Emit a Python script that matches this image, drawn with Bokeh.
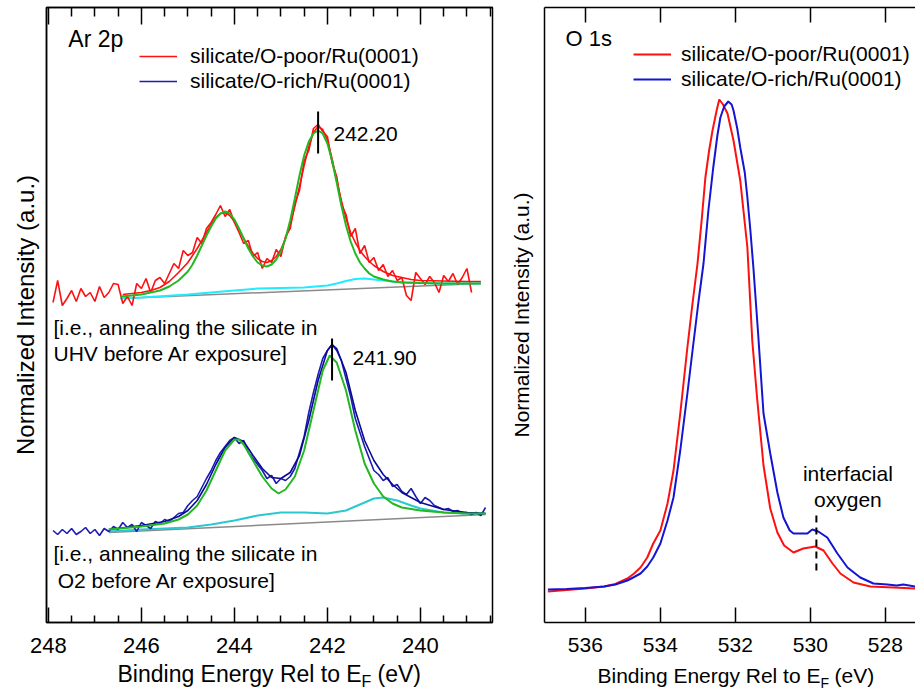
import numpy as np
from bokeh.plotting import figure
from bokeh.models import (Range1d, LinearAxis, FixedTicker, Legend, LegendItem, Label,
                          CustomLabelingPolicy)
from bokeh.layouts import row, column
from bokeh.embed import file_html
from bokeh.resources import INLINE

FONT = "Liberation Sans"

# ------------------------- Ar 2p panel data (a.u.) -------------------------
ar_poor_x = np.round(np.arange(247.9, 238.85, -0.1), 2)
ar_poor_y = [320, 342, 317, 324, 332, 321, 334, 326, 330, 321,
             336, 325, 330, 339, 338, 319, 326, 317, 339, 334,
             344, 330, 342, 345, 339, 349, 359, 354, 372, 367,
             370, 385, 379, 394, 400, 408, 417, 406, 413, 400,
             390, 379, 382, 366, 370, 354, 364, 360, 373, 366,
             386, 394, 419, 432, 462, 472, 494, 498, 491, 486,
             460, 446, 418, 408, 386, 394, 369, 377, 360, 365,
             352, 358, 346, 352, 342, 345, 327, 322, 350, 344,
             338, 346, 340, 330, 347, 341, 349, 338, 345, 354, 330]

ar_poor_env_x = [246.4, 246.2, 246.0, 245.8, 245.6, 245.4, 245.2, 245.0, 244.8, 244.6,
                 244.5, 244.4, 244.3, 244.2, 244.1, 244.0, 243.9, 243.8, 243.7, 243.6,
                 243.5, 243.4, 243.3, 243.2, 243.1, 243.0, 242.9, 242.8, 242.7, 242.6,
                 242.5, 242.4, 242.3, 242.2, 242.1, 242.0, 241.9, 241.8, 241.7, 241.6,
                 241.5, 241.4, 241.3, 241.2, 241.1, 241.0, 240.8, 240.6, 240.4, 240.2,
                 240.0, 239.5, 239.0, 238.7]
ar_poor_env_y = [328, 329, 330, 332, 335, 341, 350, 360, 374, 390,
                 398, 405, 409, 410, 407, 401, 393, 384, 376, 369,
                 364, 361, 360, 362, 366, 373, 384, 398, 416, 436,
                 457, 476, 490, 496, 493, 482, 464, 442, 422, 404,
                 390, 380, 372, 366, 361, 357, 351, 347, 345, 343,
                 342, 341.5, 341, 341]

ar_poor_fit_x = [246.45, 246.2, 246.0, 245.8, 245.6, 245.4, 245.2, 245.0, 244.9, 244.8,
                 244.7, 244.6, 244.5, 244.4, 244.3, 244.2, 244.1, 244.0, 243.9, 243.8,
                 243.7, 243.6, 243.5, 243.4, 243.3, 243.2, 243.1, 243.0, 242.9, 242.8,
                 242.7, 242.6, 242.5, 242.4, 242.3, 242.2, 242.1, 242.0, 241.9, 241.8,
                 241.7, 241.6, 241.5, 241.4, 241.3, 241.2, 241.1, 241.0, 240.8, 240.6,
                 240.4, 240.0, 239.5, 239.0, 238.7]
ar_poor_fit_y = [326, 327, 328, 330, 332, 336, 342, 351, 358, 367,
                 377, 387, 396, 404, 409, 411, 409, 403, 394, 384,
                 374, 366, 360, 357, 356, 358, 363, 371, 384, 402,
                 424, 447, 467, 481, 489, 492, 489, 479, 462, 440,
                 417, 397, 381, 369, 360, 354, 349, 346, 343, 341,
                 340, 339.5, 339, 339, 339]

ar_poor_comp_x = [246.45, 246.0, 245.5, 245.0, 244.5, 244.0, 243.5, 243.0, 242.5, 242.0,
                  241.8, 241.6, 241.4, 241.2, 241.0, 240.8, 240.5, 240.0, 239.5, 239.0, 238.7]
ar_poor_comp_y = [324, 325, 326.5, 328, 330, 332, 334, 334.5, 335, 337,
                  339, 341.5, 343.5, 344, 343, 342, 340.5, 339.5, 339, 339, 339]

ar_poor_bg_x = [246.45, 238.7]
ar_poor_bg_y = [324, 339]

ar_rich_x = np.round(np.arange(247.9, 238.55, -0.1), 2)
ar_rich_y = [92, 88, 93, 89, 94, 88, 91, 95, 89, 93,
             87, 94, 91, 96, 93, 100, 95, 98, 91, 100,
             97, 94, 101, 99, 103, 101, 105, 109, 110, 117,
             122, 126, 135, 144, 152, 162, 170, 176, 182, 185,
             179, 182, 170, 164, 158, 152, 144, 147, 139, 144,
             142, 146, 154, 170, 186, 210, 230, 248, 264, 272,
             278, 272, 262, 244, 226, 204, 190, 176, 164, 152,
             148, 142, 145, 136, 138, 131, 128, 134, 126, 119,
             125, 122, 117, 115, 113, 114, 111, 112, 109, 110,
             108, 110, 107, 115]

ar_rich_env_x = [246.7, 246.0, 245.5, 245.2, 245.0, 244.8, 244.6, 244.4, 244.2, 244.0,
                 243.8, 243.6, 243.4, 243.2, 243.0, 242.8, 242.6, 242.4, 242.2, 242.0,
                 241.9, 241.8, 241.6, 241.4, 241.2, 241.0, 240.8, 240.6, 240.4, 240.0,
                 239.5, 239.0, 238.6]
ar_rich_env_y = [93, 97, 101, 106, 112, 122, 138, 158, 175, 185,
                 181, 167, 154, 145, 144, 150, 167, 202, 242, 272,
                 278, 274, 250, 212, 182, 162, 148, 138, 130, 120,
                 113, 110, 109]

ar_rich_fit_x = [246.7, 246.0, 245.5, 245.2, 245.0, 244.8, 244.6, 244.4, 244.2, 244.0,
                 243.9, 243.8, 243.6, 243.4, 243.2, 243.05, 242.9, 242.7, 242.5, 242.3,
                 242.1, 241.95, 241.8, 241.6, 241.4, 241.2, 241.0, 240.8, 240.6, 240.4,
                 240.0, 239.5, 239.0, 238.6]
ar_rich_fit_y = [93, 96, 99, 103, 108, 117, 132, 152, 172, 183,
                 183, 178, 162, 146, 134, 129, 133, 146, 172, 212,
                 252, 267, 260, 232, 192, 159, 139, 126, 119, 115,
                 112, 110, 109, 109]

ar_rich_comp_x = [246.7, 246.0, 245.5, 245.0, 244.5, 244.0, 243.5, 243.0, 242.5, 242.0,
                  241.6, 241.3, 241.0, 240.8, 240.5, 240.2, 240.0, 239.5, 239.0, 238.6]
ar_rich_comp_y = [91, 93, 94, 95, 98, 102, 107, 110, 110, 109,
                  112, 118, 124, 125, 122, 117, 114, 110, 109, 109]

ar_rich_bg_x = [246.7, 238.6]
ar_rich_bg_y = [90, 108]

ar_peak_poor = 242.20
ar_peak_rich = 241.90
ar_mark_poor_y = [469, 511]
ar_mark_rich_y = [242, 284]

ar_major = [248, 246, 244, 242, 240]
ar_minor = [247.5, 247, 246.5, 245.5, 245, 244.5, 243.5, 243, 242.5,
            241.5, 241, 240.5, 239.5, 239, 238.5]

# ------------------------- O 1s panel data (a.u.) --------------------------
o_poor_x = [537.0, 536.5, 536.0, 535.5, 535.2, 534.88, 534.7, 534.53, 534.35, 534.19,
            534.0, 533.81, 533.65, 533.47, 533.28, 533.15, 533.01, 532.9, 532.8, 532.7,
            532.61, 532.5, 532.43, 532.33, 532.21, 532.05, 531.87, 531.68, 531.55, 531.42,
            531.25, 531.07, 530.88, 530.7, 530.45, 530.19, 529.87, 529.65, 529.41, 529.2,
            528.85, 528.4, 527.79, 527.2]
o_poor_y = [31, 32.5, 34, 36, 38.5, 44, 49, 55, 65, 79,
            92, 119, 152, 209, 275, 317, 359, 402, 445, 472,
            492, 512, 523, 518, 509, 482, 442, 375, 282, 224,
            157, 114, 90, 77, 70, 74, 76, 72, 59, 49,
            40, 36, 35, 34]

o_rich_x = [537.0, 536.5, 536.0, 535.5, 535.2, 534.88, 534.7, 534.53, 534.35, 534.19,
            534.0, 533.81, 533.65, 533.47, 533.28, 533.12, 532.98, 532.85, 532.72, 532.59,
            532.48, 532.4, 532.3, 532.19, 532.1, 532.05, 531.95, 531.87, 531.75, 531.68,
            531.6, 531.52, 531.39, 531.25, 531.07, 530.88, 530.72, 530.55, 530.45, 530.2,
            530.08, 529.95, 529.79, 529.55, 529.28, 529.01, 528.67, 528.32, 527.95, 527.7,
            527.52, 527.2]
o_rich_y = [33, 33.5, 34.5, 36, 38, 42, 45.5, 49, 56, 65,
            79, 102, 125, 172, 229, 279, 322, 359, 412, 455,
            487, 505, 516, 521, 518, 512, 494, 475, 450, 425,
            392, 355, 287, 209, 169, 130, 105, 92, 89, 89,
            89, 93, 91, 85, 69, 55, 45, 39, 38, 37,
            38, 36]

o_interfacial = 529.84
o_mark_y = [52, 109]
o_major = [536, 534, 532, 530, 528]

# ------------------------------ styling ------------------------------------
RED = "#ff1010"
BLUE_L = "#1c1cb4"
BLUE_ENV = "#0a0a96"
BLUE_R = "#1414d2"
GREEN = "#22b822"
CYAN_T = "#20ecff"
CYAN_B = "#2cc8d0"
GRAY = "#8a8a8a"

NO_LABELS = "for (const i of indices) { indices.unset(i) }\nreturn indices"


def style_axes(p, ticker_major, ticker_minor, tick_font, maj_in, min_in, top_in, top_min_in):
    p.xaxis.ticker = FixedTicker(ticks=ticker_major, minor_ticks=ticker_minor)
    p.xaxis.major_tick_in = maj_in
    p.xaxis.major_tick_out = 0
    p.xaxis.minor_tick_in = min_in
    p.xaxis.minor_tick_out = 0
    p.xaxis.major_tick_line_width = 1.5
    p.xaxis.minor_tick_line_width = 1.5
    p.xaxis.major_tick_line_color = "black"
    p.xaxis.minor_tick_line_color = "black"
    p.xaxis.axis_line_width = 1.5
    p.xaxis.axis_line_color = "black"
    p.xaxis.major_label_text_font = FONT
    p.xaxis.major_label_text_font_size = tick_font
    p.xaxis.major_label_text_color = "black"
    p.xaxis.major_label_standoff = 15
    p.xaxis.axis_label = None

    top = LinearAxis(ticker=FixedTicker(ticks=ticker_major, minor_ticks=ticker_minor),
                     major_tick_in=top_in, major_tick_out=0,
                     minor_tick_in=top_min_in, minor_tick_out=0,
                     major_tick_line_width=1.5, minor_tick_line_width=1.5,
                     major_label_text_font_size="1px", major_label_standoff=0,
                     major_label_policy=CustomLabelingPolicy(code=NO_LABELS),
                     axis_line_width=1.5, axis_line_color="black")
    p.add_layout(top, "above")

    p.yaxis.ticker = FixedTicker(ticks=[])
    p.yaxis.major_tick_out = 0
    p.yaxis.major_tick_in = 0
    p.yaxis.minor_tick_out = 0
    p.yaxis.minor_tick_in = 0
    p.yaxis.major_label_standoff = 0
    p.yaxis.axis_line_width = 1.5
    p.yaxis.axis_line_color = "black"
    p.yaxis.axis_label_text_font = FONT
    p.yaxis.axis_label_text_font_style = "normal"
    p.yaxis.axis_label_text_color = "black"
    p.grid.visible = False
    p.background_fill_color = "white"
    p.border_fill_color = "white"


def note(p, x, y, text, size, align="left", baseline="middle"):
    p.add_layout(Label(x=x, y=y, text=text, text_font=FONT, text_font_size=size,
                       text_baseline=baseline, text_align=align, text_color="black"))


# ------------------------------ Ar 2p figure -------------------------------
p1 = figure(width=496, height=662, x_range=Range1d(248.04, 238.45), y_range=Range1d(0, 615),
            output_backend="svg", toolbar_location=None, title=None,
            min_border_left=46, min_border_right=4, min_border_top=7, min_border_bottom=40)
style_axes(p1, ar_major, ar_minor, "22px", 15, 7, 17, 9)
p1.yaxis.axis_label = "Normalized Intensity (a.u.)"
p1.yaxis.axis_label_text_font_size = "24px"
p1.yaxis.axis_label_standoff = 8
p1.outline_line_color = "black"
p1.outline_line_width = 1.5
p1.outline_line_alpha = 1.0

p1.line(ar_poor_bg_x, ar_poor_bg_y, line_color=GRAY, line_width=1.5)
p1.line(ar_poor_comp_x, ar_poor_comp_y, line_color=CYAN_T, line_width=2)
r_poor = p1.line(ar_poor_x, ar_poor_y, line_color=RED, line_width=1.6)
p1.line(ar_poor_env_x, ar_poor_env_y, line_color=RED, line_width=1.6)
p1.line(ar_poor_fit_x, ar_poor_fit_y, line_color=GREEN, line_width=2)

p1.line(ar_rich_bg_x, ar_rich_bg_y, line_color=GRAY, line_width=1.5)
p1.line(ar_rich_comp_x, ar_rich_comp_y, line_color=CYAN_B, line_width=2)
r_rich = p1.line(ar_rich_x, ar_rich_y, line_color=BLUE_L, line_width=1.6)
p1.line(ar_rich_env_x, ar_rich_env_y, line_color=BLUE_ENV, line_width=1.6)
p1.line(ar_rich_fit_x, ar_rich_fit_y, line_color=GREEN, line_width=2)

p1.line([ar_peak_poor, ar_peak_poor], ar_mark_poor_y, line_color="black", line_width=2)
p1.line([ar_peak_rich, ar_peak_rich], ar_mark_rich_y, line_color="black", line_width=2)

note(p1, 247.57, 584, "Ar 2p", "23px")
note(p1, 241.87, 489, "242.20", "21px")
note(p1, 241.46, 265, "241.90", "21px")
note(p1, 247.89, 295, "[i.e., annealing the silicate in", "21px")
note(p1, 247.89, 269, "UHV before Ar exposure]", "21px")
note(p1, 247.89, 69, "[i.e., annealing the silicate in", "21px")
note(p1, 247.80, 42, "O2 before Ar exposure]", "21px")

leg1 = Legend(items=[LegendItem(label="silicate/O-poor/Ru(0001)", renderers=[r_poor]),
                     LegendItem(label="silicate/O-rich/Ru(0001)", renderers=[r_rich])],
              location=(93, 529), padding=0, margin=0, spacing=1,
              border_line_color=None, background_fill_alpha=0,
              label_text_font=FONT, label_text_font_size="21px", label_text_color="black",
              glyph_width=38, glyph_height=20, label_height=20, label_standoff=13)
p1.add_layout(leg1)

# ------------------------------ O 1s figure --------------------------------
p2 = figure(width=419, height=662, x_range=Range1d(537.09, 527.197), y_range=Range1d(0, 615),
            output_backend="svg", toolbar_location=None, title=None,
            min_border_left=48, min_border_right=0, min_border_top=7, min_border_bottom=40)
style_axes(p2, o_major, [], "21px", 15, 0, 15, 0)
p2.yaxis.axis_label = "Normalized Intensity (a.u.)"
p2.yaxis.axis_label_text_font_size = "21px"
p2.yaxis.axis_label_standoff = 12
p2.outline_line_color = None

r2_poor = p2.line(o_poor_x, o_poor_y, line_color=RED, line_width=2)
r2_rich = p2.line(o_rich_x, o_rich_y, line_color=BLUE_R, line_width=2)
p2.line([o_interfacial, o_interfacial], o_mark_y, line_color="black", line_width=2,
        line_dash="7 5")

note(p2, 536.53, 584, "O 1s", "22px")
note(p2, 529.0, 149, "interfacial", "21px", align="center")
note(p2, 529.0, 123, "oxygen", "21px", align="center")

leg2 = Legend(items=[LegendItem(label="silicate/O-poor/Ru(0001)", renderers=[r2_poor]),
                     LegendItem(label="silicate/O-rich/Ru(0001)", renderers=[r2_rich])],
              location=(89, 531), padding=0, margin=0, spacing=1,
              border_line_color=None, background_fill_alpha=0,
              label_text_font=FONT, label_text_font_size="21px", label_text_color="black",
              glyph_width=38, glyph_height=20, label_height=20, label_standoff=10)
p2.add_layout(leg2)

# ------------------- x-axis titles (with subscript F) strip -----------------
strip = figure(width=915, height=28, x_range=Range1d(0, 915), y_range=Range1d(0, 28),
               x_axis_type=None, y_axis_type=None, output_backend="svg", title=None,
               toolbar_location=None, min_border=0)
strip.outline_line_color = None
strip.grid.visible = False
strip.background_fill_color = "white"
strip.border_fill_color = "white"

note(strip, 117, 17, "Binding Energy Rel to E", "23px")
note(strip, 361, 9, "F", "16px")
note(strip, 377, 17, "(eV)", "23px")
note(strip, 597, 15.5, "Binding Energy Rel to E", "21px")
note(strip, 820, 8, "F", "14px")
note(strip, 834, 15.5, "(eV)", "21px")

layout = column(row(p1, p2), strip)
open("out.html", "w").write(file_html(layout, INLINE))
